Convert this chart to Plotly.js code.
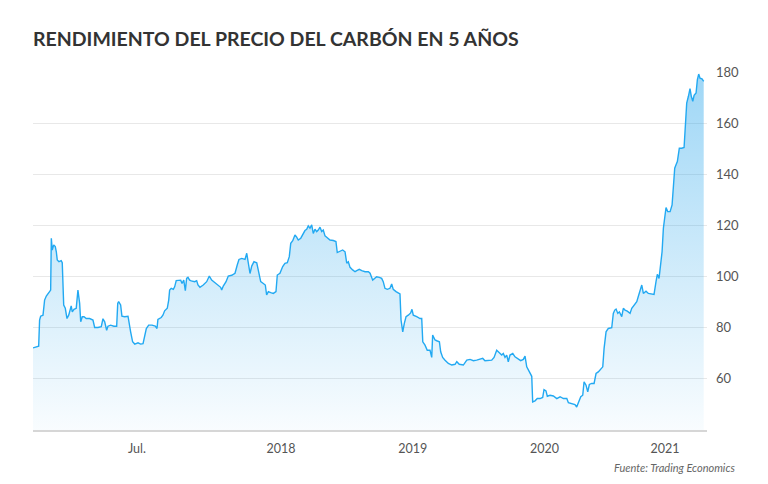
<!DOCTYPE html>
<html>
<head>
<meta charset="utf-8">
<script src="https://cdn.plot.ly/plotly-3.0.1.min.js"></script>
<style>html,body{margin:0;padding:0;background:#fff;}#chart{width:768px;height:484px;}</style>
</head>
<body>
<div id="chart"></div>
<script>
// Time as decimal year (position along the chart's time axis)
const years = [
2016.118,2016.143,2016.161,2016.168,2016.176,2016.194,2016.206,2016.219,2016.231,2016.244,2016.252,2016.257,2016.264,2016.275,2016.287,2016.295,2016.302,2016.315,2016.332,2016.340,
2016.351,2016.363,2016.376,2016.389,2016.401,2016.408,2016.416,2016.429,2016.446,2016.459,2016.472,2016.480,2016.492,2016.505,2016.522,2016.548,2016.573,2016.586,2016.611,2016.636,
2016.649,2016.662,2016.677,2016.687,2016.707,2016.732,2016.753,2016.761,2016.768,2016.783,2016.793,2016.814,2016.839,2016.849,2016.859,2016.874,2016.890,2016.915,2016.935,2016.953,
2016.966,2016.978,2016.996,2017.021,2017.046,2017.059,2017.066,2017.091,2017.104,2017.117,2017.137,2017.148,2017.155,2017.167,2017.183,2017.193,2017.205,2017.224,2017.239,2017.249,
2017.262,2017.274,2017.284,2017.294,2017.307,2017.319,2017.332,2017.345,2017.360,2017.370,
2017.385,2017.410,2017.436,2017.456,2017.474,2017.499,2017.524,2017.542,2017.550,2017.562,2017.583,2017.600,2017.626,2017.651,2017.668,2017.681,2017.702,2017.727,2017.740,2017.752,
2017.765,2017.778,2017.795,2017.816,2017.828,2017.846,2017.866,2017.881,2017.891,2017.904,2017.922,2017.942,2017.962,2017.972,2017.992,2018.013,2018.030,2018.048,2018.063,2018.074,
2018.089,2018.106,2018.119,2018.131,2018.150,2018.169,2018.182,2018.195,2018.207,2018.220,2018.233,2018.245,2018.258,2018.271,2018.283,2018.296,2018.309,2018.321,2018.334,2018.347,
2018.372,2018.397,2018.417,2018.427,2018.443,2018.468,2018.486,2018.499,2018.511,2018.524,2018.544,2018.562,2018.575,2018.594,2018.613,2018.638,2018.663,
2018.676,2018.696,2018.713,2018.726,2018.746,2018.764,2018.776,2018.789,2018.807,2018.827,2018.840,2018.852,2018.873,2018.890,2018.903,2018.911,2018.924,2018.936,2018.949,2018.966,
2018.984,2018.994,2019.004,2019.030,2019.055,2019.068,2019.076,2019.093,2019.110,2019.131,2019.144,2019.151,2019.169,2019.182,2019.202,2019.212,2019.227,2019.245,2019.270,2019.296,
2019.321,2019.334,2019.353,2019.384,2019.410,2019.435,2019.460,2019.485,2019.510,2019.531,2019.548,2019.573,2019.599,2019.617,2019.637,2019.657,2019.675,2019.687,2019.700,2019.713,
2019.725,2019.738,2019.759,2019.776,2019.801,2019.819,2019.839,2019.852,2019.865,2019.877,2019.890,2019.903,2019.910,2019.928,2019.945,2019.966,
2019.986,2019.996,2020.011,2020.021,2020.042,2020.067,2020.093,2020.118,2020.143,2020.169,2020.181,2020.206,2020.231,2020.244,2020.257,2020.275,2020.290,2020.300,2020.315,2020.328,
2020.340,2020.358,2020.376,2020.391,2020.408,2020.427,2020.442,2020.452,2020.467,2020.484,2020.510,2020.522,2020.533,2020.543,2020.556,2020.568,2020.586,2020.598,2020.611,2020.628,
2020.649,2020.662,2020.679,2020.700,2020.715,2020.725,2020.738,2020.750,2020.770,2020.788,2020.814,2020.831,2020.846,2020.856,2020.869,2020.882,2020.892,2020.902,2020.915,2020.922,
2020.935,2020.953,2020.968,2020.978,2020.988,2020.998,2021.008,2021.023,2021.041,2021.059,2021.069,2021.079,2021.092,2021.104,2021.114,2021.125,2021.135,2021.150,2021.160,2021.170,
2021.180,2021.195,2021.208
];
// Coal price (USD per tonne)
const prices = [
72.1,72.5,72.8,83.0,84.5,84.9,90.8,92.4,93.2,94.5,94.7,115.0,110.4,112.4,111.7,109.7,106.5,105.8,106.2,105.4,
88.9,87.6,83.6,84.9,87.6,88.5,86.2,87.2,87.6,94.7,89.5,82.3,84.3,84.3,83.6,83.6,83.0,80.1,80.1,80.4,
83.5,82.3,79.0,80.6,81.0,80.6,80.6,89.5,90.2,88.9,84.5,84.3,84.5,80.4,78.4,74.5,73.6,74.1,73.6,73.8,
77.1,79.7,81.0,81.0,80.6,79.7,83.2,84.0,84.9,86.6,87.6,90.8,94.7,95.4,95.0,96.0,98.4,98.6,98.6,97.3,
98.6,94.5,99.3,99.7,98.6,98.3,98.0,98.0,98.4,96.7,
95.8,96.7,98.0,100.2,98.6,97.6,96.7,95.8,94.7,96.3,98.0,100.2,100.5,101.3,104.5,106.7,107.1,106.7,109.1,104.9,
101.2,104.1,105.8,105.4,101.9,98.0,97.3,96.7,92.8,94.1,93.7,93.4,94.1,100.6,101.3,103.9,105.2,105.4,107.8,113.0,
114.0,116.3,115.4,114.3,115.0,116.9,118.0,118.5,119.8,118.9,120.2,116.9,118.5,117.6,118.2,119.3,117.6,118.2,115.9,115.4,
114.3,114.1,113.7,109.4,109.7,110.4,109.7,105.2,105.8,103.6,102.6,101.9,102.3,102.8,102.3,101.9,101.9,
101.3,98.6,99.3,99.9,99.7,99.3,98.0,95.4,95.0,95.4,97.1,95.0,94.1,93.7,93.2,83.0,78.4,81.7,84.3,84.9,
85.8,87.2,84.9,84.3,83.6,83.6,74.5,73.2,71.2,71.2,68.4,77.1,75.2,74.9,74.5,70.6,68.4,67.3,66.0,65.4,
65.7,66.7,65.7,65.4,67.3,67.6,67.1,67.3,67.6,68.0,67.1,67.1,67.3,68.4,71.2,70.2,69.3,69.9,68.4,69.3,
66.7,69.3,69.9,68.6,67.6,67.1,67.6,68.9,64.7,63.4,62.1,61.0,51.0,51.4,52.3,52.3,
52.7,55.8,55.3,53.2,53.6,53.3,52.3,53.0,52.3,52.3,50.7,50.3,49.9,49.0,51.0,53.0,53.6,58.8,57.5,54.9,
57.8,58.2,58.2,62.1,62.7,63.8,64.7,71.9,78.4,79.7,80.0,85.6,86.9,87.3,85.6,86.2,84.3,87.6,86.9,86.5,
85.6,87.6,88.9,90.2,92.8,94.7,96.7,93.4,94.3,93.4,93.0,93.0,98.0,100.9,99.3,105.2,109.7,118.9,123.4,127.0,
125.4,125.4,128.0,137.2,142.4,143.7,145.0,150.2,150.2,150.5,159.4,167.8,170.5,173.5,170.5,168.5,170.9,171.8,177.0,179.2,
177.6,177.3,176.3
];
const tickPositions = [2016.907, 2018.0, 2019.0, 2020.0, 2020.915];
const tickLabels = ["Jul.", "2018", "2019", "2020", "2021"];
const yTicks = [60, 80, 100, 120, 140, 160, 180];

const trace = {
  x: years, y: prices, type: 'scatter', mode: 'lines',
  line: {color: '#22a9f2', width: 1.4},
  fill: 'tozeroy',
  fillgradient: {type: 'vertical', start: 40, stop: 180,
    colorscale: [[0, 'rgba(40,165,235,0.03)'], [1, 'rgba(40,165,235,0.45)']]},
  hoverinfo: 'x+y'
};

const layout = {
  width: 768, height: 484,
  margin: {l: 33, r: 61, t: 72, b: 54},
  paper_bgcolor: '#ffffff', plot_bgcolor: '#ffffff',
  showlegend: false,
  title: {text: 'RENDIMIENTO DEL PRECIO DEL CARBÓN EN 5 AÑOS',
    font: {family: 'Lato, sans-serif', size: 19.5, color: '#333333', weight: 700},
    xref: 'paper', x: 0, xanchor: 'left', yref: 'container', y: 1 - 39/484, yanchor: 'middle'},
  xaxis: {
    range: [2016.118, 2021.233], type: 'linear',
    tickvals: tickPositions, ticktext: tickLabels,
    showgrid: false, zeroline: false,
    showline: true, linecolor: '#d6d6d6', linewidth: 2,
    ticks: '', ticklen: 0, ticklabelstandoff: 6,
    tickfont: {family: 'Lato, sans-serif', size: 12.5, color: '#555555'},
    fixedrange: true
  },
  yaxis: {
    range: [40, 180], side: 'right',
    tickvals: yTicks, ticktext: yTicks.map(String),
    showgrid: true, gridcolor: '#e8e8e8', gridwidth: 1,
    zeroline: false, showline: false, ticks: '',
    ticklabelstandoff: 8,
    tickfont: {family: 'Lato, sans-serif', size: 13, color: '#555555'},
    fixedrange: true
  },
  annotations: [{
    text: '<i>Fuente: Trading Economics</i>',
    xref: 'paper', yref: 'paper', x: 1.045, y: -0.105, xanchor: 'right', yanchor: 'middle',
    showarrow: false, font: {family: 'Lato, sans-serif', size: 11, color: '#666666'}
  }]
};

Plotly.newPlot('chart', [trace], layout, {displayModeBar: false, staticPlot: true});
</script>
</body>
</html>
